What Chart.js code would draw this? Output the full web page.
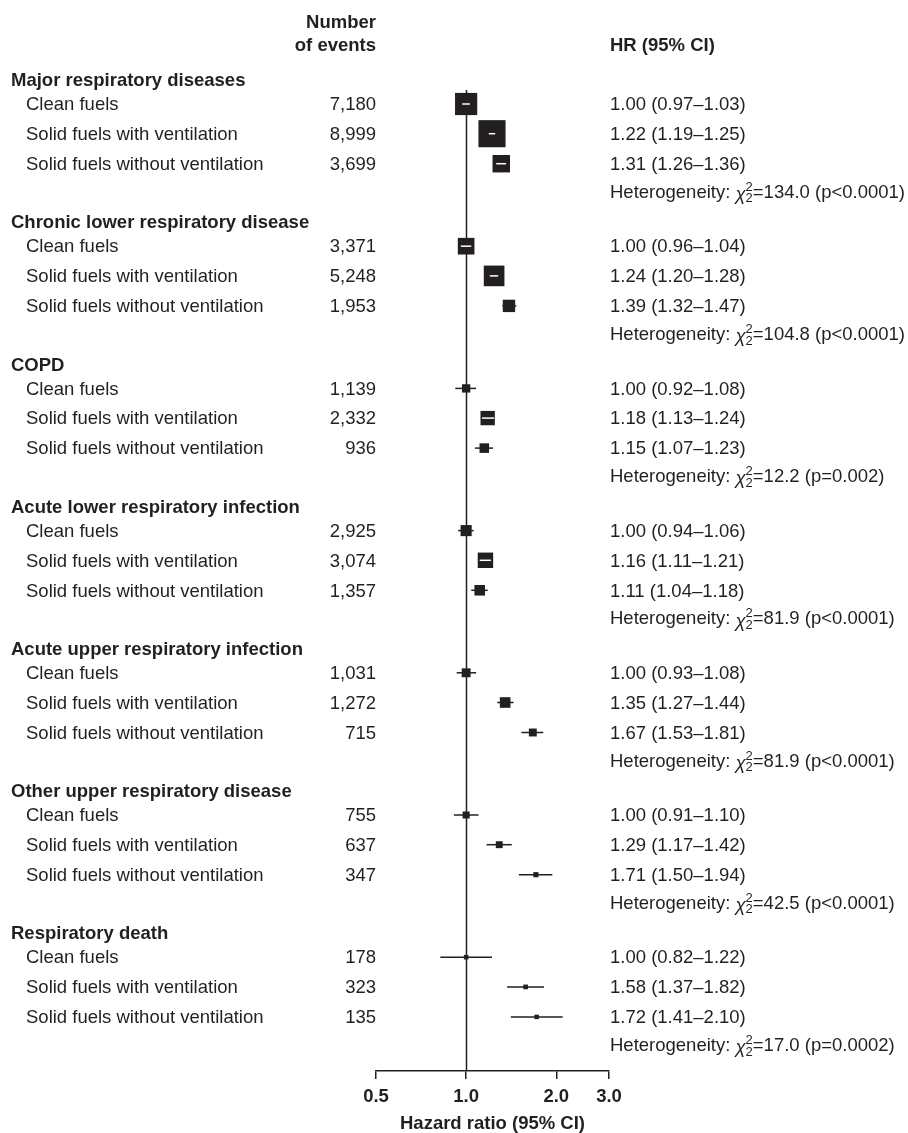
<!DOCTYPE html>
<html>
<head>
<meta charset="utf-8">
<script src="https://cdn.jsdelivr.net/npm/chart.js@4.4.1/dist/chart.umd.min.js"></script>
<style>
  html, body { margin: 0; padding: 0; background: #fff; }
  canvas { display: block; }
</style>
</head>
<body>
<canvas id="forestChart" width="908" height="1133"></canvas>
<script>
// ---- data ----
const groups = [
  'Major respiratory diseases',
  'Chronic lower respiratory disease',
  'COPD',
  'Acute lower respiratory infection',
  'Acute upper respiratory infection',
  'Other upper respiratory disease',
  'Respiratory death'
];
const fuelTypes = ['Clean fuels', 'Solid fuels with ventilation', 'Solid fuels without ventilation'];

const events = [
  [7180, 8999, 3699],
  [3371, 5248, 1953],
  [1139, 2332, 936],
  [2925, 3074, 1357],
  [1031, 1272, 715],
  [755, 637, 347],
  [178, 323, 135]
];
const hr = [
  [1.00, 1.22, 1.31],
  [1.00, 1.24, 1.39],
  [1.00, 1.18, 1.15],
  [1.00, 1.16, 1.11],
  [1.00, 1.35, 1.67],
  [1.00, 1.29, 1.71],
  [1.00, 1.58, 1.72]
];
const ciLow = [
  [0.97, 1.19, 1.26],
  [0.96, 1.20, 1.32],
  [0.92, 1.13, 1.07],
  [0.94, 1.11, 1.04],
  [0.93, 1.27, 1.53],
  [0.91, 1.17, 1.50],
  [0.82, 1.37, 1.41]
];
const ciHigh = [
  [1.03, 1.25, 1.36],
  [1.04, 1.28, 1.47],
  [1.08, 1.24, 1.23],
  [1.06, 1.21, 1.18],
  [1.08, 1.44, 1.81],
  [1.10, 1.42, 1.94],
  [1.22, 1.82, 2.10]
];
const chiSquare = [134.0, 104.8, 12.2, 81.9, 81.9, 42.5, 17.0];
const pValues = ['p<0.0001', 'p<0.0001', 'p=0.002', 'p<0.0001', 'p<0.0001', 'p<0.0001', 'p=0.0002'];
const xTicks = [0.5, 1.0, 2.0, 3.0];

// ---- layout (row units on the y scale) ----
const INK = '#231f20';
const FONT = '"Liberation Sans", Arial, Helvetica, sans-serif';
const FS = 18.5;
const TEXT_SHIFT = 1.2;   // nudge so cap height centres on the row
const BLOCK = 4.74;
const ROW_OFFSETS = [0.8, 1.79, 2.79];
const HET_OFFSET = 3.72;
const HEADER_ROWS = [-1.943, -1.183];
const REF_LINE_TOP = 0.33;
const BOX_SCALE = 0.34;   // box side (px) per 1/SE
const MIN_BOX = 4.5;

const rows = [];
groups.forEach((g, gi) => {
  fuelTypes.forEach((f, fi) => {
    rows.push({
      y: gi * BLOCK + ROW_OFFSETS[fi],
      hr: hr[gi][fi], lo: ciLow[gi][fi], hi: ciHigh[gi][fi]
    });
  });
});

function boxSide(r) {
  const se = Math.log(r.hi / r.lo) / (2 * 1.96);
  return Math.max(MIN_BOX, BOX_SCALE / se);
}

const forestPlugin = {
  id: 'forestExtras',
  beforeDatasetsDraw(chart) {
    const { ctx, chartArea } = chart;
    const x = chart.scales.x, y = chart.scales.y;
    ctx.save();
    ctx.strokeStyle = INK;
    ctx.lineWidth = 1.5;
    // reference line at HR = 1
    const x1 = Math.round(x.getPixelForValue(1)) + 0.5;
    ctx.beginPath();
    ctx.moveTo(x1, y.getPixelForValue(REF_LINE_TOP));
    ctx.lineTo(x1, chartArea.bottom);
    ctx.stroke();
    // confidence intervals
    rows.forEach(r => {
      const py = y.getPixelForValue(r.y);
      ctx.beginPath();
      ctx.moveTo(x.getPixelForValue(r.lo), py);
      ctx.lineTo(x.getPixelForValue(r.hi), py);
      ctx.stroke();
    });
    ctx.restore();
  },
  afterDatasetsDraw(chart) {
    // CI drawn in white where it sits fully inside its box
    const { ctx } = chart;
    const x = chart.scales.x, y = chart.scales.y;
    ctx.save();
    ctx.strokeStyle = '#ffffff';
    ctx.lineWidth = 1.5;
    rows.forEach(r => {
      const half = boxSide(r) / 2;
      const cx = x.getPixelForValue(r.hr);
      const l = x.getPixelForValue(r.lo), h = x.getPixelForValue(r.hi);
      if (l >= cx - half && h <= cx + half) {
        const py = y.getPixelForValue(r.y);
        ctx.beginPath();
        ctx.moveTo(l, py);
        ctx.lineTo(h, py);
        ctx.stroke();
      }
    });
    ctx.restore();
  },
  afterDraw(chart) {
    const { ctx, chartArea } = chart;
    const y = chart.scales.y;
    const ty = v => y.getPixelForValue(v) + TEXT_SHIFT;
    const numRight = chartArea.left;
    const hrLeft = chartArea.right + 1;
    const regular = `${FS}px ${FONT}`;
    const bold = `bold ${FS}px ${FONT}`;
    ctx.save();
    ctx.fillStyle = INK;
    ctx.textBaseline = 'middle';

    // column headers
    ctx.font = bold;
    ctx.textAlign = 'right';
    ctx.fillText('Number', numRight, ty(HEADER_ROWS[0]));
    ctx.fillText('of events', numRight, ty(HEADER_ROWS[1]));
    ctx.textAlign = 'left';
    ctx.fillText('HR (95% CI)', hrLeft, ty(HEADER_ROWS[1]));

    groups.forEach((g, gi) => {
      const base = gi * BLOCK;
      ctx.font = bold;
      ctx.textAlign = 'left';
      ctx.fillText(g, 11, ty(base));
      fuelTypes.forEach((f, fi) => {
        const py = ty(base + ROW_OFFSETS[fi]);
        ctx.font = regular;
        ctx.textAlign = 'left';
        ctx.fillText(f, 26, py);
        ctx.textAlign = 'right';
        ctx.fillText(events[gi][fi].toLocaleString('en-US'), numRight, py);
        ctx.textAlign = 'left';
        const txt = hr[gi][fi].toFixed(2) + ' (' + ciLow[gi][fi].toFixed(2) + '\u2013' + ciHigh[gi][fi].toFixed(2) + ')';
        ctx.fillText(txt, hrLeft, py);
      });
      // heterogeneity line
      const hy = ty(base + HET_OFFSET);
      let hx = hrLeft;
      ctx.textAlign = 'left';
      ctx.font = regular;
      ctx.fillText('Heterogeneity: ', hx, hy);
      hx += ctx.measureText('Heterogeneity: ').width;
      ctx.font = `italic ${FS}px ${FONT}`;
      ctx.fillText('\u03c7', hx, hy + 2);
      hx += ctx.measureText('\u03c7').width;
      ctx.font = `13px ${FONT}`;
      ctx.fillText('2', hx, hy - 5.5);
      ctx.fillText('2', hx, hy + 6);
      hx += ctx.measureText('2').width;
      ctx.font = regular;
      ctx.fillText('=' + chiSquare[gi].toFixed(1) + ' (' + pValues[gi] + ')', hx, hy);
    });
    ctx.restore();
  }
};

new Chart(document.getElementById('forestChart'), {
  type: 'scatter',
  data: {
    datasets: [{
      data: rows.map(r => ({ x: r.hr, y: r.y })),
      pointStyle: 'rect',
      pointRadius: rows.map(r => boxSide(r) / Math.SQRT2),
      pointHoverRadius: rows.map(r => boxSide(r) / Math.SQRT2),
      pointBackgroundColor: INK,
      pointBorderWidth: 0,
      clip: false
    }]
  },
  options: {
    responsive: false,
    animation: false,
    devicePixelRatio: 1,
    layout: { autoPadding: false, padding: { left: 376, right: 299, top: 0, bottom: 0 } },
    plugins: {
      legend: { display: false },
      tooltip: { enabled: false }
    },
    events: [],
    scales: {
      x: {
        type: 'logarithmic',
        min: 0.5,
        max: 3.0,
        bounds: 'data',
        afterBuildTicks: scale => { scale.ticks = xTicks.map(v => ({ value: v })); },
        afterFit: scale => { scale.height = 62; },
        grid: { drawOnChartArea: false, drawTicks: true, tickLength: 8, color: INK, lineWidth: 1.5 },
        border: { display: true, color: INK, width: 1.5 },
        ticks: {
          autoSkip: false,
          maxRotation: 0,
          padding: 7,
          color: INK,
          font: { family: FONT, size: FS, weight: 'bold' },
          callback: v => Number(v).toFixed(1)
        },
        title: {
          display: true,
          text: 'Hazard ratio (95% CI)',
          color: INK,
          font: { family: FONT, size: FS, weight: 'bold', lineHeight: 1 },
          padding: { top: 0, bottom: 0 }
        }
      },
      y: {
        type: 'linear',
        display: false,
        reverse: true,
        bounds: 'data',
        min: -80 / 30,
        max: -80 / 30 + 1071 / 30
      }
    }
  },
  plugins: [forestPlugin]
});
</script>
</body>
</html>
